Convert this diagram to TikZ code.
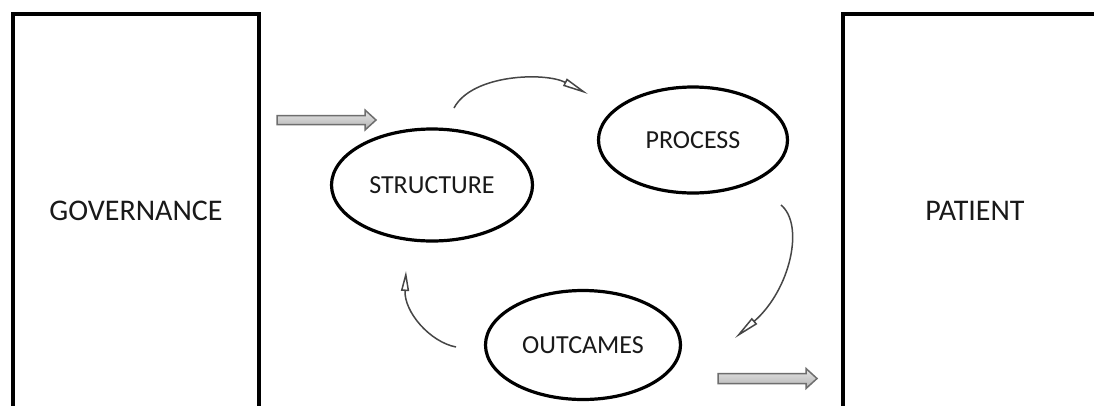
\documentclass[tikz,border=0pt]{standalone}
\usepackage{fontspec}
\setmainfont{Carlito}
\usetikzlibrary{shapes.geometric,arrows.meta}
\definecolor{txt}{RGB}{25,25,25}
\definecolor{arrline}{RGB}{70,70,70}
\definecolor{fatedge}{RGB}{110,110,110}
\begin{document}
\begin{tikzpicture}[x=1pt,y=-1pt,
  bigbox/.style={draw=black, line width=3.2pt, rectangle, inner sep=0pt,
    text=txt, font=\fontsize{30}{34}\selectfont},
  oval/.style={ellipse, draw=black, line width=3.2pt, inner sep=0pt,
    text=txt, font=\fontsize{26}{30}\selectfont},
  curvearrow/.style={draw=arrline, line width=1.5pt,
    -{Triangle[open, length=26pt, width=8pt, line width=1.5pt]}},
  fatarrow/.style={draw=fatedge, line width=1.5pt, top color=black!10, bottom color=black!30}
]
\clip (0,0) rectangle (1094,405);
\useasboundingbox (0,0) rectangle (1094,405);
\fill[white] (0,0) rectangle (1094,405);

% outer boxes
\node[bigbox, minimum width=246pt, minimum height=394pt] (gov) at (136,211) {GOVERNANCE};
\node[bigbox, minimum width=266pt, minimum height=394pt] (pat) at (976,211) {};
\node[text=txt, font=\fontsize{30}{34}\selectfont] (pattext) at (975,211) {PATIENT};

% ellipses
\node[oval, minimum width=201pt, minimum height=112pt] (structure) at (432,185) {STRUCTURE};
\node[oval, minimum width=189pt, minimum height=106pt] (process) at (693,140) {PROCESS};
\node[oval, minimum width=195pt, minimum height=109pt] (outcames) at (583,345) {OUTCAMES};

% curved arrows
\coordinate (c1s) at (454,108);
\coordinate (c1e) at (588,94);
\coordinate (c2s) at (781,205);
\coordinate (c2e) at (735,338);
\coordinate (c3s) at (456,347);
\coordinate (c3e) at (406,271);
\draw[curvearrow] (c1s) .. controls (472,74) and (545,72) .. (c1e);
\draw[curvearrow] (c2s) .. controls (805,225) and (790,290) .. (c2e);
\draw[curvearrow, -{Triangle[open, length=20pt, width=8pt, line width=1.5pt]}] (c3s) .. controls (430,342) and (404,312) .. (c3e);

% fat arrows
\path[fatarrow] (277,115.5) -- (365,115.5) -- (365,110) -- (376,120) -- (365,130) -- (365,124.5) -- (277,124.5) -- cycle;
\path[fatarrow] (718,373.5) -- (806,373.5) -- (806,368.5) -- (817,378.5) -- (806,388.5) -- (806,383.5) -- (718,383.5) -- cycle;
\end{tikzpicture}
\end{document}
